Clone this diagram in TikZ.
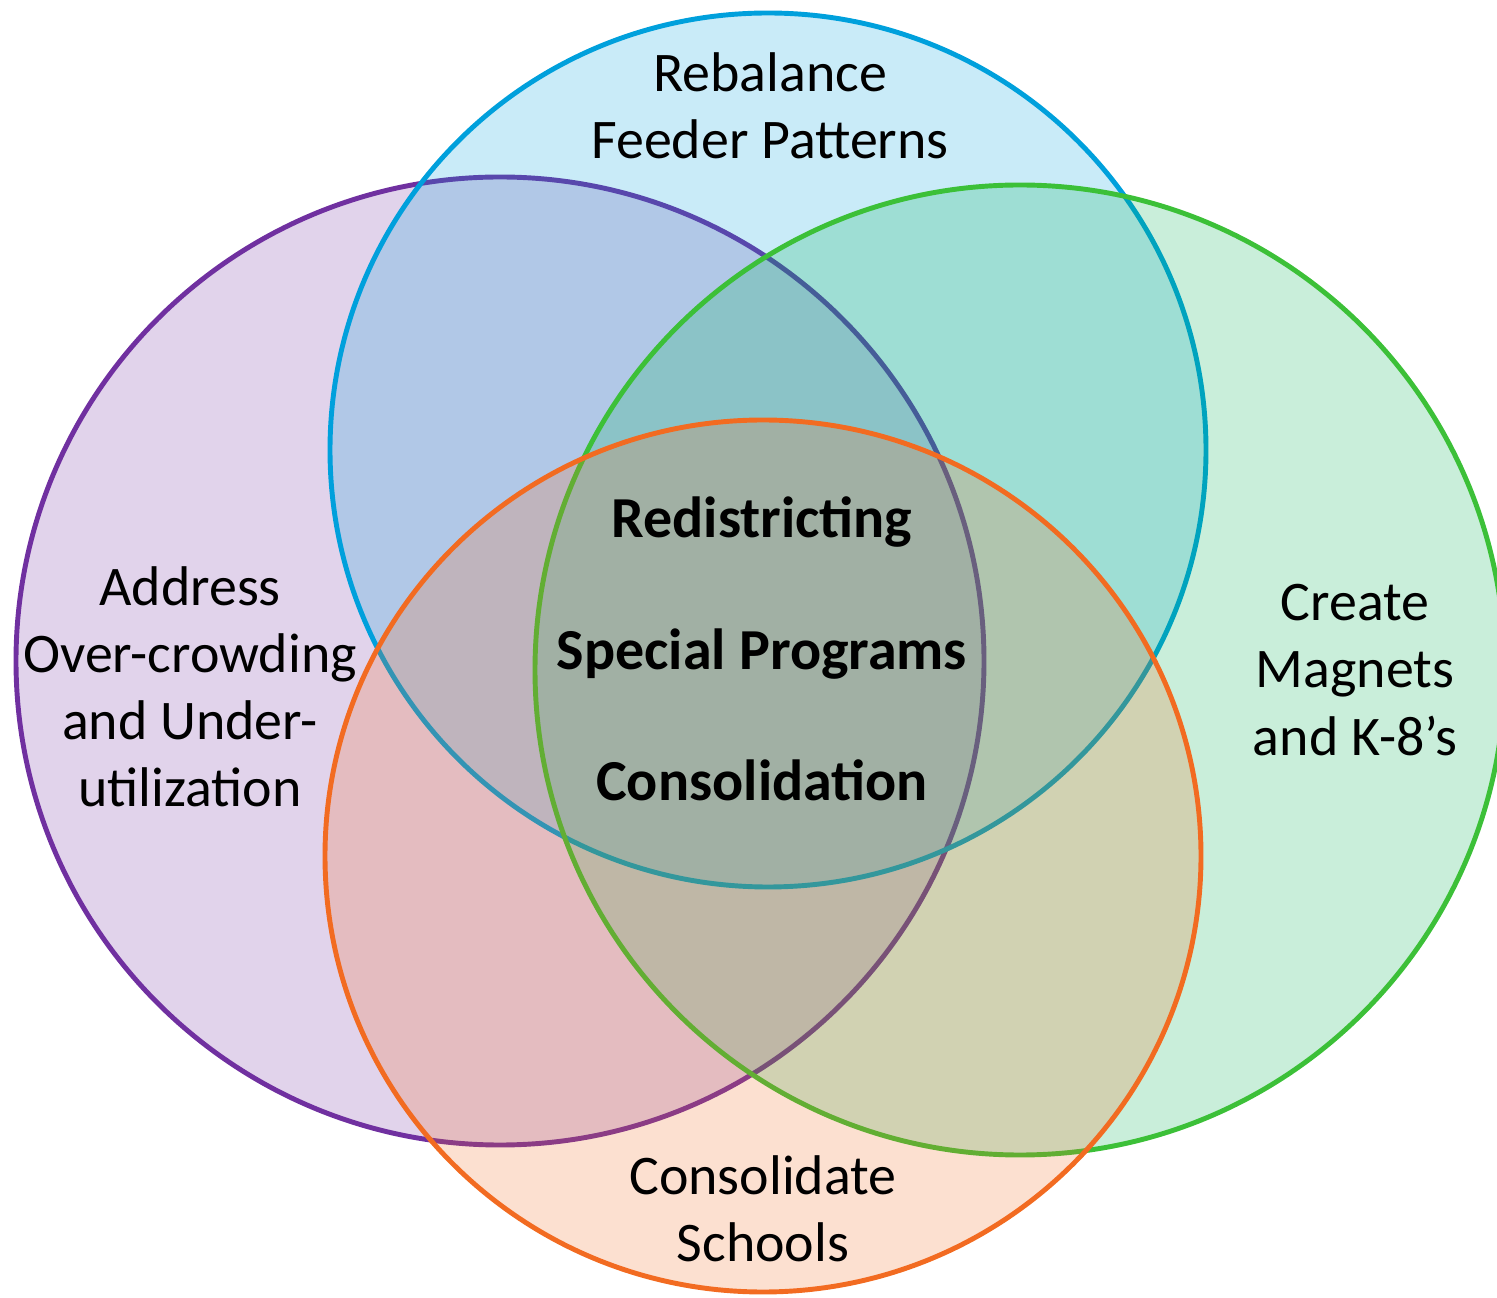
\documentclass[tikz,border=0pt]{standalone}
\usepackage{fontspec}
\setmainfont{Carlito}
\definecolor{vpurple}{RGB}{112,48,160}
\definecolor{vblue}{RGB}{0,160,220}
\definecolor{vgreen}{RGB}{0,176,80}
\definecolor{vgreenline}{RGB}{60,192,56}
\definecolor{vorange}{RGB}{242,107,33}
\tikzset{
    EL/.style ={line width=1.4pt, fill opacity=0.21, draw opacity=1},
    EP/.style ={EL, draw=vpurple, fill=vpurple},
    EB/.style ={EL, draw=vblue, fill=vblue},
    EG/.style ={EL, draw=vgreenline, fill=vgreen},
    EO/.style ={EL, draw=vorange, fill=vorange},
    TX/.style ={align=center, inner sep=0pt, font=\fontsize{15.9}{19.1}\selectfont},
    TB/.style ={align=center, inner sep=0pt, font=\bfseries\fontsize{16.5}{37.4}\selectfont}}

\begin{document}
\begin{tikzpicture}[x=0.01cm,y=-0.01cm]
        \useasboundingbox (0,0) rectangle (1497,1298);
        \clip (0,0) rectangle (1497,1298);
        \draw[EP] (500,661) ellipse (484 and 484);
        \draw[EB] (768,450) ellipse (438 and 437);
        \draw[EG] (1020,670) ellipse (485 and 485);
        \draw[EO] (763,856) ellipse (438 and 436);
        \node[TX] (feeder) at(770,106){Rebalance\\Feeder Patterns};
        \node[TX] (crowd) at(190,687){Address\\Over-crowding\\and Under-\\utilization};
        \node[TX] (magnet) at(1355,670){Create\\Magnets\\and K-8’s};
        \node[TX] (consol) at(763,1209){Consolidate\\Schools};
        \node[TB] (core) at(762,649){Redistricting\\Special Programs\\Consolidation};
    \end{tikzpicture}
\end{document}
